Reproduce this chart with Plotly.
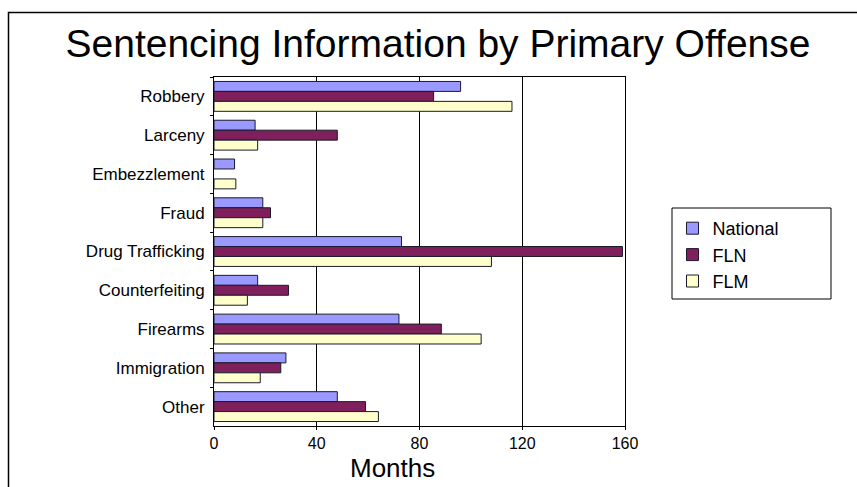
import plotly.graph_objects as go

categories = ["Robbery", "Larceny", "Embezzlement", "Fraud", "Drug Trafficking",
              "Counterfeiting", "Firearms", "Immigration", "Other"]
national = [96, 16, 8, 19, 73, 17, 72, 28, 48]
fln = [85.5, 48, None, 22, 159, 29, 88.5, 26, 59]
flm = [116, 17, 8.5, 19, 108, 13, 104, 18, 64]
x_ticks = [0, 40, 80, 120, 160]

W, H = 857, 487
L, R, T, B = 214, 625, 77, 426
FONT = "Liberation Sans, Arial, sans-serif"

fig = go.Figure()
for name, vals, col in [("National", national, "#9999FF"),
                        ("FLN", fln, "#7F1F5C"),
                        ("FLM", flm, "#FFFFCC")]:
    fig.add_trace(go.Bar(y=categories, x=vals, name=name, orientation="h",
                         marker=dict(color=col, line=dict(color="#1a1a2e", width=1))))

def px(x):
    return (x - L) / (R - L)

def py(y):
    return (B - y) / (B - T)

# outer chart frame
fig.add_shape(type="rect", xref="paper", yref="paper",
              x0=px(8.5), x1=px(870), y0=py(495), y1=py(12.5),
              line=dict(color="black", width=1.5), layer="below")
# legend frame
fig.add_shape(type="rect", xref="paper", yref="paper",
              x0=px(672), x1=px(831), y0=py(299), y1=py(208),
              line=dict(color="black", width=1), layer="below")

fig.add_annotation(text="Months", xref="paper", yref="paper",
                   x=px(392), y=py(468), xanchor="center", yanchor="middle",
                   showarrow=False, font=dict(size=26, family=FONT, color="black"))

fig.update_layout(
    width=W, height=H,
    margin=dict(l=L, r=W - R, t=T, b=H - B),
    paper_bgcolor="white", plot_bgcolor="white",
    barmode="group", bargap=0.23, bargroupgap=0,
    font=dict(family=FONT, color="black", size=17),
    title=dict(text="Sentencing Information by Primary Offense",
               x=438 / W, xanchor="center", y=1 - 43 / H, yanchor="middle",
               font=dict(size=39, color="black")),
    legend=dict(x=px(672.5), y=py(210), xanchor="left", yanchor="top",
                borderwidth=0, bgcolor="rgba(0,0,0,0)",
                font=dict(size=18), traceorder="normal"),
    xaxis=dict(range=[0, 160], tickvals=x_ticks, ticktext=[str(v) for v in x_ticks],
               showgrid=True, gridcolor="black", gridwidth=1,
               showline=True, linecolor="black", linewidth=1, mirror=True,
               ticks="outside", ticklen=3, tickcolor="black",
               zeroline=False, tickfont=dict(size=16)),
    yaxis=dict(autorange="reversed", showgrid=False,
               showline=True, linecolor="black", linewidth=1, mirror=True,
               ticks="outside", ticklen=3, tickcolor="black", tickson="boundaries",
               tickfont=dict(size=17), ticklabelstandoff=5),
)

fig.write_html("out.html")
